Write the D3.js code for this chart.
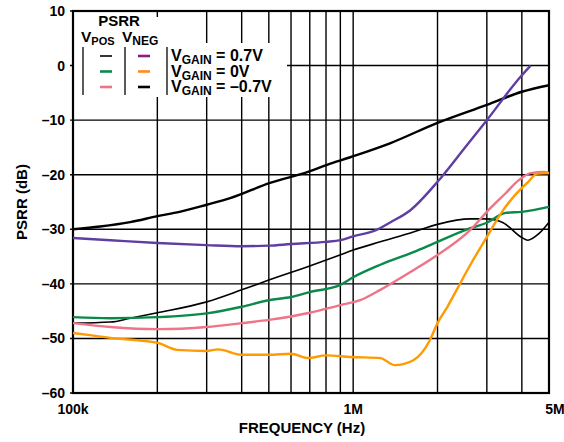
<!DOCTYPE html>
<html>
<head>
<meta charset="utf-8">
<script src="https://cdn.jsdelivr.net/npm/d3@7"></script>
<style>
body { margin: 0; background: #fff; }
text { font-family: "Liberation Sans", Arial, sans-serif; font-weight: bold; fill: #000; }
</style>
</head>
<body>
<div id="chart"></div>
<script>
// data: [frequency Hz, PSRR dB]
var negMinus07 = [[1e5,-30],[1.25e5,-29.5],[1.6e5,-28.7],[2e5,-27.6],[2.4e5,-26.8],[3e5,-25.5],[3.64e5,-24.3],
  [5.05e5,-21.5],[6.9e5,-19.5],[8.07e5,-18.2],[9.76e5,-16.8],[1.36e6,-14.2],[2e6,-10.5],[3e6,-7.2],[4e6,-4.8],[5e6,-3.6]];
var negPlus07 = [[1e5,-31.6],[1.36e5,-32],[2e5,-32.5],[3e5,-32.9],[4e5,-33.1],[5e5,-33.0],[6e5,-32.7],[8e5,-32.3],
  [9e5,-32.0],[1e6,-31.3],[1.2e6,-30.2],[1.36e6,-28.7],[1.6e6,-26.5],[2e6,-21.3],[2.5e6,-15.1],[3e6,-10],[3.95e6,-2.1],[4.3e6,0]];
var posPlus07 = [[1e5,-47.2],[1.36e5,-47.0],[1.6e5,-46.3],[2e5,-45.3],[3e5,-43.3],[4e5,-41.1],[5e5,-39.3],[6.84e5,-36.9],
  [8.97e5,-34.7],[1e6,-33.8],[1.25e6,-32.3],[1.64e6,-30.5],[2e6,-29.1],[2.62e6,-28.1],[3e6,-28.1],[3.43e6,-28.8],
  [4e6,-31.5],[4.2e6,-32.0],[4.6e6,-30.8],[5e6,-28.7]];
var posZero = [[1e5,-46.1],[1.36e5,-46.3],[2e5,-46.1],[3e5,-45.4],[4e5,-44.2],[5e5,-43.0],[6e5,-42.4],[7e5,-41.5],
  [9e5,-40.2],[1e6,-38.8],[1.25e6,-36.5],[1.64e6,-34.2],[2e6,-32.3],[2.62e6,-29.8],[3e6,-28.8],[3.5e6,-27.0],
  [4e6,-26.8],[5e6,-25.9]];
var posMinus07 = [[1e5,-47.2],[1.36e5,-47.9],[2e5,-48.3],[3e5,-47.9],[4e5,-47.2],[5e5,-46.6],[7e5,-45.3],[9e5,-43.9],
  [1.06e6,-43.0],[1.25e6,-41.1],[1.64e6,-37.5],[2e6,-34.7],[2.62e6,-30.1],[3e6,-26.8],[3.5e6,-23.4],[3.9e6,-21.0],
  [4.3e6,-19.7],[4.8e6,-19.5],[5e6,-19.7]];
var negZero = [[1e5,-49.0],[1.15e5,-49.4],[1.36e5,-49.9],[2e5,-50.8],[2.35e5,-52.1],[3e5,-52.3],[3.3e5,-52.0],[4e5,-53.0],
  [5e5,-53.0],[6e5,-52.8],[6.9e5,-53.6],[8e5,-53.1],[9.76e5,-53.4],[1.25e6,-53.6],[1.41e6,-54.9],[1.64e6,-54.0],
  [1.88e6,-50.3],[2e6,-47.2],[2.17e6,-44.2],[2.37e6,-40.6],[2.62e6,-36.5],[3e6,-31.4],[3.43e6,-26.5],[4e6,-22.4],
  [4.18e6,-21.5],[4.54e6,-19.8],[5e6,-19.7]];

var yTicks = [10, 0, -10, -20, -30, -40, -50, -60];
var xGrid = [2e5, 3e5, 4e5, 5e5, 6e5, 7e5, 8e5, 9e5, 1e6, 2e6, 3e6, 4e6];
var xLabels = [[1e5, '100k'], [1e6, '1M'], [5e6, '5M']];
var legendRows = ['0.7V', '0V', '\u20130.7V'];

var width = 564, height = 442;
var margin = {top: 11, right: 15, bottom: 49, left: 73};

var svg = d3.select('#chart').append('svg')
    .attr('width', width)
    .attr('height', height);

var x = d3.scaleLog().domain([1e5, 5e6]).range([margin.left, width - margin.right]);
var y = d3.scaleLinear().domain([-60, 10]).range([height - margin.bottom, margin.top]);

// grid
svg.selectAll('line.vgrid')
    .data(xGrid)
    .enter().append('line')
    .attr('x1', function(d) { return x(d); })
    .attr('x2', function(d) { return x(d); })
    .attr('y1', y(10)).attr('y2', y(-60))
    .attr('stroke', '#000').attr('stroke-width', 1.4);

svg.selectAll('line.hgrid')
    .data(yTicks)
    .enter().append('line')
    .attr('x1', x(1e5) - 3).attr('x2', x(5e6))
    .attr('y1', function(d) { return y(d); })
    .attr('y2', function(d) { return y(d); })
    .attr('stroke', '#000').attr('stroke-width', 1.4);

// white behind the legend
svg.append('rect').attr('x', x(1e5) + 1).attr('y', 17).attr('width', 92).attr('height', 80).attr('fill', '#fff');
svg.append('rect').attr('x', x(1e5) + 1).attr('y', 43).attr('width', 213).attr('height', 54).attr('fill', '#fff');

// frame
svg.append('rect')
    .attr('x', x(1e5)).attr('y', y(10))
    .attr('width', x(5e6) - x(1e5)).attr('height', y(-60) - y(10))
    .attr('fill', 'none').attr('stroke', '#000').attr('stroke-width', 2.2);

// tick labels
svg.selectAll('text.ylab')
    .data(yTicks)
    .enter().append('text')
    .attr('x', 65)
    .attr('y', function(d) { return y(d) + 5; })
    .attr('text-anchor', 'end')
    .style('font-size', '14px')
    .text(function(d) { return d < 0 ? '\u2013' + (-d) : d; });

svg.selectAll('text.xlab')
    .data(xLabels)
    .enter().append('text')
    .attr('x', function(d) { return d[1] == '5M' ? x(d[0]) + 6 : x(d[0]); })
    .attr('y', 414)
    .attr('text-anchor', 'middle')
    .style('font-size', '14px')
    .text(function(d) { return d[1]; });

svg.append('text')
    .attr('x', (x(1e5) + x(5e6)) / 2 - 9).attr('y', 433)
    .attr('text-anchor', 'middle')
    .style('font-size', '15px')
    .text('FREQUENCY (Hz)');

svg.append('text')
    .attr('transform', 'translate(27,' + (y(-25)) + ') rotate(-90)')
    .attr('text-anchor', 'middle')
    .style('font-size', '15px')
    .text('PSRR (dB)');

// curves
var line = d3.line()
    .x(function(d) { return x(d[0]); })
    .y(function(d) { return y(d[1]); })
    .curve(d3.curveMonotoneX);

var series = [
    {data: negMinus07, color: '#000', w: 2.4},
    {data: posPlus07, color: '#000', w: 1.6},
    {data: posZero, color: '#0a8a4a', w: 2.4},
    {data: posMinus07, color: '#ef7488', w: 2.4},
    {data: negZero, color: '#ff9a00', w: 2.4},
    {data: negPlus07, color: '#5f3ea3', w: 2.4}
];

svg.selectAll('path.curve')
    .data(series)
    .enter().append('path')
    .attr('class', 'curve')
    .attr('d', function(d) { return line(d.data); })
    .attr('fill', 'none')
    .attr('stroke', function(d) { return d.color; })
    .attr('stroke-width', function(d) { return d.w; });

// legend
svg.append('text').attr('x', 119).attr('y', 26).attr('text-anchor', 'middle')
    .style('font-size', '15px').text('PSRR');

var vpos = svg.append('text').attr('x', 81).attr('y', 42).style('font-size', '15.5px');
vpos.append('tspan').text('V');
vpos.append('tspan').attr('dy', 3).style('font-size', '11px').text('POS');
var vneg = svg.append('text').attr('x', 122).attr('y', 42).style('font-size', '15.5px');
vneg.append('tspan').text('V');
vneg.append('tspan').attr('dy', 3).style('font-size', '12px').text('NEG');

[83, 125, 167].forEach(function(bx) {
    svg.append('line').attr('x1', bx).attr('x2', bx).attr('y1', 47).attr('y2', 95)
        .attr('stroke', '#333').attr('stroke-width', 1.6);
});

var legCol1 = ['#000', '#0a8a4a', '#ef7488'];
var legCol2 = ['#8a1a8c', '#ff8a1a', '#000'];
legendRows.forEach(function(r, i) {
    var ly = 56 + i * 15.5;
    svg.append('line').attr('x1', 100).attr('x2', 112).attr('y1', ly).attr('y2', ly)
        .attr('stroke', legCol1[i]).attr('stroke-width', i == 0 ? 1.6 : 2.6);
    svg.append('line').attr('x1', 138).attr('x2', 150).attr('y1', ly).attr('y2', ly)
        .attr('stroke', legCol2[i]).attr('stroke-width', 2.6);
    var t = svg.append('text').attr('x', 171).attr('y', ly + 5).style('font-size', '16px');
    t.append('tspan').text('V');
    t.append('tspan').attr('dy', 3).style('font-size', '12px').text('GAIN');
    t.append('tspan').attr('dy', -3).text(' = ' + r);
});
</script>
</body>
</html>
